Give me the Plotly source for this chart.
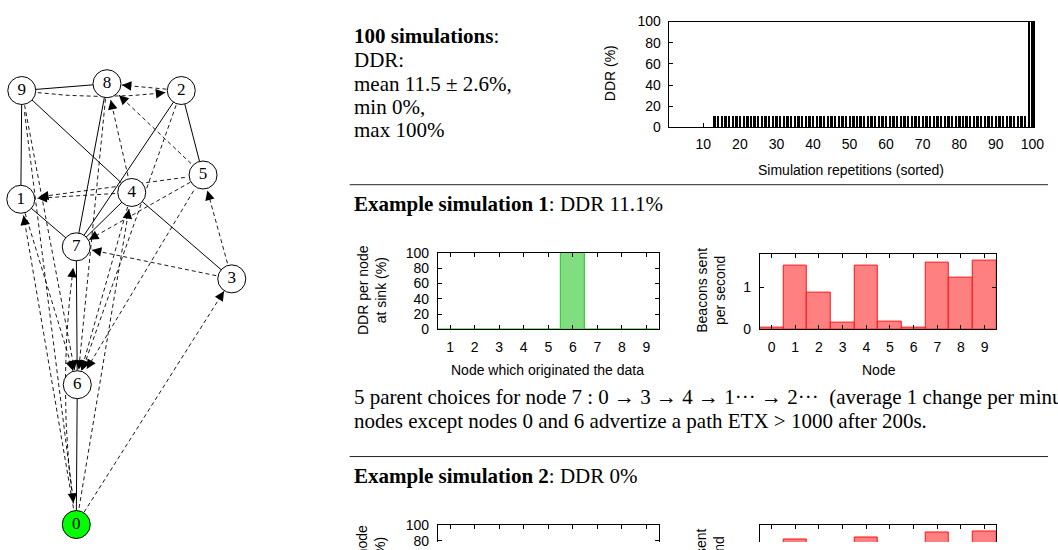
import math
import plotly.graph_objects as go

W, H = 1058, 550

# ---------------- data ----------------
# topology graph (left panel) - node positions (pixels)
node_ids = [0, 1, 2, 3, 4, 5, 6, 7, 8, 9]
node_x = [77, 21, 183, 234, 133, 205, 78, 77, 108, 22]
node_y = [532, 197, 85, 279, 190, 172, 388, 246, 78, 85]
node_fill = ['#00ff00', '#ffffff', '#ffffff', '#ffffff', '#ffffff',
             '#ffffff', '#ffffff', '#ffffff', '#ffffff', '#ffffff']
solid_edges = [(9, 8), (9, 1), (9, 4), (4, 3), (8, 7), (2, 7), (2, 5),
               (1, 7), (4, 7), (7, 6), (6, 0)]
dashed_edges = [(2, 8), (9, 2), (5, 8), (4, 8), (5, 1), (4, 1), (5, 7),
                (3, 7), (3, 5), (0, 1), (0, 7), (0, 4), (0, 3),
                (9, 0), (9, 6), (1, 6), (8, 6), (4, 6), (2, 6), (5, 6)]
edge_bend = {(9, 2): 12, (0, 7): -22}

# 100 simulations, DDR (%) sorted
sim_index = list(range(1, 101))
ddr_sorted = [0, 0, 0, 0, 0, 0, 0, 0, 0, 0, 0, 0,
              11.1, 11.1, 11.1, 11.1, 11.1, 11.1, 11.1, 11.1, 11.1, 11.1,
              11.1, 11.1, 11.1, 11.1, 11.1, 11.1, 11.1, 11.1, 11.1, 11.1,
              11.1, 11.1, 11.1, 11.1, 11.1, 11.1, 11.1, 11.1, 11.1, 11.1,
              11.1, 11.1, 11.1, 11.1, 11.1, 11.1, 11.1, 11.1, 11.1, 11.1,
              11.1, 11.1, 11.1, 11.1, 11.1, 11.1, 11.1, 11.1, 11.1, 11.1,
              11.1, 11.1, 11.1, 11.1, 11.1, 11.1, 11.1, 11.1, 11.1, 11.1,
              11.1, 11.1, 11.1, 11.1, 11.1, 11.1, 11.1, 11.1, 11.1, 11.1,
              11.1, 11.1, 11.1, 11.1, 11.1, 11.1, 11.1, 11.1, 11.1, 11.1,
              11.1, 11.1, 11.1, 11.1, 11.1, 11.1,
              100, 100]
top_xticks = [10, 20, 30, 40, 50, 60, 70, 80, 90, 100]
top_yticks = [0, 20, 40, 60, 80, 100]

# example simulation 1
origin_nodes = [1, 2, 3, 4, 5, 6, 7, 8, 9]
sim1_ddr = [0, 0, 0, 0, 0, 100, 0, 0, 0]
beacon_nodes = [0, 1, 2, 3, 4, 5, 6, 7, 8, 9]
sim1_beacons = [0.05, 1.53, 0.87, 0.16, 1.53, 0.19, 0.05, 1.59, 1.23, 1.64]
ddr_yticks = [0, 20, 40, 60, 80, 100]
beacon_yticks = [0, 1]

# example simulation 2
sim2_ddr = [0, 0, 0, 0, 0, 0, 0, 0, 0]
sim2_beacons = [0.05, 1.48, 0.9, 0.2, 1.52, 0.2, 0.05, 1.64, 1.2, 1.66]

SERIF = 'Liberation Serif'
SANS = 'Liberation Sans'
R = 14.5  # node radius (px)


def px(x):
    return x / W


def py(y):
    return 1 - y / H


fig = go.Figure()
annotations = []

# ---------------- graph ----------------
pos = {n: (node_x[i], node_y[i]) for i, n in enumerate(node_ids)}

sx, sy = [], []
for a, b in solid_edges:
    sx += [pos[a][0], pos[b][0], None]
    sy += [pos[a][1], pos[b][1], None]
fig.add_trace(go.Scatter(x=sx, y=sy, mode='lines', xaxis='x', yaxis='y',
                         line=dict(color='black', width=1), hoverinfo='skip'))

dx, dy = [], []
for a, b in dashed_edges:
    (x0, y0), (x1, y1) = pos[a], pos[b]
    bend = edge_bend.get((a, b), 0)
    L = math.hypot(x1 - x0, y1 - y0)
    ux, uy = (x1 - x0) / L, (y1 - y0) / L
    nx, ny = -uy, ux
    cx, cy = (x0 + x1) / 2 + nx * bend, (y0 + y1) / 2 + ny * bend
    pts = []
    for k in range(41):
        t = k / 40
        bx = (1 - t) ** 2 * x0 + 2 * (1 - t) * t * cx + t ** 2 * x1
        by = (1 - t) ** 2 * y0 + 2 * (1 - t) * t * cy + t ** 2 * y1
        pts.append((bx, by))
    pts = [p for p in pts if math.hypot(p[0] - x0, p[1] - y0) >= R and
           math.hypot(p[0] - x1, p[1] - y1) >= R]
    if len(pts) < 2:
        continue
    for p in pts:
        dx.append(p[0])
        dy.append(p[1])
    dx.append(None)
    dy.append(None)
    ex, ey = pts[-1]
    qx, qy = pts[-2]
    vx, vy = ex - qx, ey - qy
    vl = math.hypot(vx, vy)
    vx, vy = vx / vl, vy / vl
    annotations.append(dict(x=ex, y=ey, ax=ex - vx * 7, ay=ey - vy * 7,
                            xref='x', yref='y', axref='x', ayref='y',
                            text='', showarrow=True, arrowhead=2,
                            arrowsize=1.9, arrowwidth=1, arrowcolor='black',
                            standoff=0, startstandoff=0))

fig.add_trace(go.Scatter(x=dx, y=dy, mode='lines', xaxis='x', yaxis='y',
                         line=dict(color='black', width=0.9, dash='4px,3px'),
                         hoverinfo='skip'))

fig.add_trace(go.Scatter(x=node_x, y=node_y, mode='markers+text',
                         xaxis='x', yaxis='y',
                         text=[str(n) for n in node_ids],
                         textposition='middle center',
                         textfont=dict(family=SERIF, size=17, color='black'),
                         marker=dict(size=28, color=node_fill,
                                     line=dict(color='black', width=1)),
                         hoverinfo='skip'))

# ---------------- bar charts ----------------
fig.add_trace(go.Bar(x=sim_index, y=ddr_sorted, xaxis='x2', yaxis='y2',
                     width=0.5, marker=dict(color='black', line=dict(width=0))))

fig.add_trace(go.Bar(x=origin_nodes, y=sim1_ddr, xaxis='x3', yaxis='y3',
                     width=1, marker=dict(color='#80de80',
                                          line=dict(color='#22c422', width=1))))
fig.add_trace(go.Bar(x=beacon_nodes, y=sim1_beacons, xaxis='x4', yaxis='y4',
                     width=1, marker=dict(color='#ff8080',
                                          line=dict(color='#ff1010', width=1))))
fig.add_trace(go.Bar(x=origin_nodes, y=sim2_ddr, xaxis='x5', yaxis='y5',
                     width=1, marker=dict(color='#80de80',
                                          line=dict(color='#22c422', width=1))))
fig.add_trace(go.Bar(x=beacon_nodes, y=sim2_beacons, xaxis='x6', yaxis='y6',
                     width=1, marker=dict(color='#ff8080',
                                          line=dict(color='#ff1010', width=1))))

tickfont = dict(family=SANS, size=14, color='black')


def ax_common(**kw):
    d = dict(showgrid=False, zeroline=False, showline=True, linecolor='black',
             linewidth=1, ticks='inside', ticklen=4, tickcolor='black',
             tickfont=tickfont, fixedrange=True)
    d.update(kw)
    return d


layout = dict(
    width=W, height=H, autosize=False,
    margin=dict(l=0, r=0, t=0, b=0, pad=0),
    paper_bgcolor='white', plot_bgcolor='white',
    showlegend=False, bargap=0,
    xaxis=dict(domain=[0, 300 / W], range=[0, 300], visible=False,
               fixedrange=True),
    yaxis=dict(domain=[0, 1], range=[550, 0], visible=False, fixedrange=True),
    xaxis2=ax_common(domain=[px(675), px(1044)], range=[0.5, 100.5],
                     tickvals=top_xticks, anchor='y2', mirror=True,
                     ticklabelstandoff=4),
    yaxis2=ax_common(domain=[py(123), py(14)], range=[0, 100],
                     tickvals=top_yticks, anchor='x2', mirror=True,
                     ticklabelstandoff=4),
    xaxis3=ax_common(domain=[px(442), px(665)], range=[0.5, 9.5],
                     tickvals=origin_nodes, anchor='y3', mirror='ticks',
                     ticklabelstandoff=5),
    yaxis3=ax_common(domain=[py(331), py(252)], range=[0, 100],
                     tickvals=ddr_yticks, anchor='x3', mirror='ticks',
                     ticklabelstandoff=5),
    xaxis4=ax_common(domain=[px(767), px(1006)], range=[-0.5, 9.5],
                     tickvals=beacon_nodes, anchor='y4', mirror='ticks',
                     ticklabelstandoff=5),
    yaxis4=ax_common(domain=[py(331), py(253)], range=[0, 1.81],
                     tickvals=beacon_yticks, anchor='x4', mirror='ticks',
                     ticklabelstandoff=5),
    xaxis5=ax_common(domain=[px(442), px(665)], range=[0.5, 9.5],
                     tickvals=origin_nodes, anchor='y5', side='top',
                     showticklabels=False),
    yaxis5=ax_common(domain=[0, py(533)], range=[100 - 17 / 79 * 100, 100],
                     tickvals=ddr_yticks, anchor='x5', mirror='ticks',
                     ticklabelstandoff=5),
    xaxis6=ax_common(domain=[px(767), px(1006)], range=[-0.5, 9.5],
                     tickvals=beacon_nodes, anchor='y6', side='top',
                     showticklabels=False),
    yaxis6=ax_common(domain=[0, py(533)], range=[1.81 - 17 / 78 * 1.81, 1.81],
                     tickvals=beacon_yticks, anchor='x6', mirror='ticks',
                     ticklabelstandoff=5),
)


def txt(x, y, s, size=21, family=SERIF, angle=0, xanchor='left'):
    annotations.append(dict(x=px(x), y=py(y), xref='paper', yref='paper',
                            text=s, showarrow=False, xanchor=xanchor,
                            yanchor='middle', textangle=angle,
                            font=dict(family=family, size=size, color='black')))


# text block
txt(355, 29, '<b>100 simulations</b>:')
txt(355, 54, 'DDR:')
txt(355, 78, 'mean 11.5 ± 2.6%,')
txt(355, 102, 'min 0%,')
txt(355, 126, 'max 100%')

# axis titles
txt(616, 67, 'DDR (%)', size=14, family=SANS, angle=-90, xanchor='center')
txt(859, 167, 'Simulation repetitions (sorted)', size=14, family=SANS,
    xanchor='center')
txt(375, 290, 'DDR per node<br>at sink (%)', size=14, family=SANS, angle=-90,
    xanchor='center')
txt(553, 373, 'Node which originated the data', size=14, family=SANS,
    xanchor='center')
txt(717, 291, 'Beacons sent<br>per second', size=14, family=SANS, angle=-90,
    xanchor='center')
txt(887, 373, 'Node', size=14, family=SANS, xanchor='center')
txt(375, 578, 'DDR per node<br>at sink (%)', size=14, family=SANS, angle=-90,
    xanchor='center')
txt(717, 580, 'Beacons sent<br>per second', size=14, family=SANS, angle=-90,
    xanchor='center')

txt(355, 202, '<b>Example simulation 1</b>: DDR 11.1%')
txt(355, 401, '5 parent choices for node 7 : 0 → 3 → 4 → 1··· → 2··· '
              ' (average 1 change per minute)')
txt(355, 425, 'nodes except nodes 0 and 6 advertize a path ETX &gt; 1000 after 200s.')
txt(355, 482, '<b>Example simulation 2</b>: DDR 0%')

layout['annotations'] = annotations
layout['shapes'] = [
    dict(type='line', xref='paper', yref='paper', x0=px(353), x1=1,
         y0=py(182), y1=py(182), line=dict(color='#222222', width=1)),
    dict(type='line', xref='paper', yref='paper', x0=px(353), x1=1,
         y0=py(462), y1=py(462), line=dict(color='#222222', width=1)),
]

fig.update_layout(**layout)
fig.write_html('out.html')
